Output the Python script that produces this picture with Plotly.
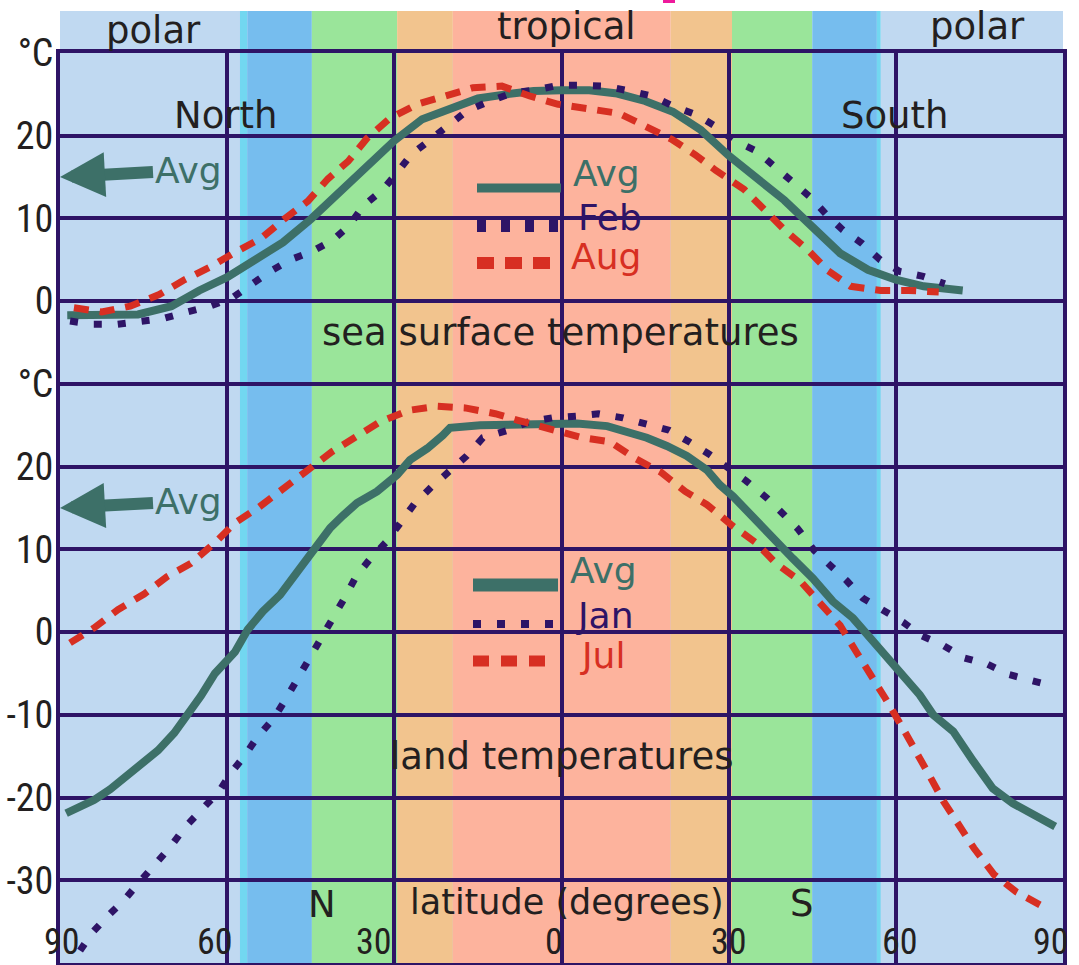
import plotly.graph_objects as go

# ---------------- data ----------------
# latitude: positive = North (left), negative = South (right)
sea_avg_lat = [88.7, 85, 80, 76, 70, 65, 60, 55, 50, 45, 40, 35, 30, 25, 20, 15, 10, 5, 0,
               -5, -10, -15, -20, -25, -30, -35, -40, -45, -50, -55, -60, -65, -70, -72]
sea_avg_temp = [-1.7, -1.7, -1.7, -1.6, -0.6, 1.3, 2.9, 5.0, 7.1, 9.9, 13.1, 16.1, 19.4, 22.0, 23.3,
                24.5, 25.0, 25.4, 25.5, 25.5, 25.1, 24.2, 22.9, 20.7, 17.6, 14.9, 12.2, 9.0, 5.8,
                3.8, 2.6, 1.8, 1.4, 1.3]

sea_feb_lat = [88.2, 84.1, 79.8, 75.6, 71.5, 67.2, 63.1, 59.1, 56.3, 52.3, 48.7, 44.8, 41.0, 38.0,
               35.6, 32.2, 29.9, 27.0, 23.4, 20.5, 17.0, 12.8, 8.7, 4.8, 0.6, -3.7, -7.8, -12.3,
               -16.2, -20.0, -24.3, -27.5, -30.8, -35.1, -38.0, -41.5, -44.6, -47.5, -50.5,
               -53.9, -57.2, -60.7, -64.9, -68.8]
sea_feb_temp = [-2.4, -2.8, -2.8, -2.4, -2.1, -1.3, -0.6, 0.4, 1.8, 3.6, 5.0, 6.0, 7.4, 9.2, 11.5,
                13.4, 15.2, 17.7, 19.6, 21.2, 23.0, 24.2, 25.2, 25.5, 26.1, 26.1, 26.0, 25.4,
                24.8, 23.6, 22.5, 21.2, 19.5, 18.1, 16.4, 14.6, 12.6, 10.5, 8.6, 7.0, 5.0, 3.6,
                3.0, 2.1]

sea_aug_lat = [87.5, 82.5, 77.4, 72.2, 67.9, 62.9, 58.6, 53.9, 49.8, 45.5, 41.9, 38.3, 34.9, 30.8,
               25.9, 20.9, 15.9, 10.7, 5.7, 0.6, -5.1, -10.3, -14.6, -19.7, -24.0, -27.7, -32.8,
               -36.3, -39.9, -44.2, -47.8, -51.9, -57.3, -62.3, -67.7]
sea_aug_temp = [-0.8, -1.3, -0.6, 0.8, 2.5, 4.2, 5.9, 7.6, 9.9, 12.1, 14.8, 16.9, 19.7, 22.1, 23.8,
                24.8, 25.8, 26.0, 24.8, 23.8, 23.3, 22.7, 21.3, 19.6, 17.7, 15.8, 13.5, 11.1,
                8.7, 6.2, 3.7, 1.8, 1.3, 1.3, 1.1]

land_avg_lat = [88.9, 86.8, 83.9, 81.0, 78.2, 75.3, 72.4, 69.5, 67.0, 64.7, 62.2, 58.6, 56.3,
                53.6, 50.5, 48.2, 45.7, 43.9, 41.5, 39.2, 36.7, 33.1, 29.5, 27.2, 24.1, 21.3,
                20.0, 14.6, 9.2, 3.3, -2.8, -8.2, -11.8, -15.3, -18.9, -22.5, -26.1, -28.4,
                -30.8, -34.4, -38.0, -41.5, -45.1, -48.7, -52.3, -55.9, -58.4, -61.3, -64.3,
                -66.7, -70.3, -73.9, -77.4, -81.0, -84.6, -88.6]
land_avg_temp = [-21.9, -21.2, -20.3, -19.0, -17.5, -16.0, -14.3, -12.2, -10.0, -7.7, -5.0, -2.4,
                 0.3, 2.5, 4.5, 6.5, 8.6, 10.5, 12.6, 14.1, 15.6, 17.0, 19.0, 20.8, 22.2, 23.8,
                 24.7, 25.0, 25.0, 25.2, 25.2, 24.9, 24.3, 23.5, 22.5, 21.3, 19.6, 17.8, 16.4,
                 13.8, 11.4, 8.9, 6.5, 3.7, 1.7, -1.1, -2.8, -5.2, -7.6, -10.0, -12.0, -15.6,
                 -18.9, -20.7, -21.9, -23.5]

land_jan_lat = [86.4, 84.3, 81.4, 78.5, 75.6, 72.6, 70.1, 67.6, 64.7, 61.5, 59.3, 56.8, 54.6,
                51.6, 49.4, 47.3, 45.1, 43.0, 40.8, 38.7, 36.9, 34.4, 31.3, 28.4, 26.3, 23.4,
                20.5, 17.0, 14.1, 9.6, 6.0, 1.7, -2.6, -6.6, -11.0, -15.0, -19.3, -22.9, -26.5,
                -33.1, -36.7, -39.6, -42.4, -45.3, -48.2, -51.2, -54.1, -57.7, -61.3, -64.5,
                -68.5, -72.2, -76.5, -80.1, -84.4, -88.0]
land_jan_temp = [-38.5, -36.4, -34.3, -32.4, -30.1, -27.8, -25.9, -23.6, -21.6, -19.3, -17.0,
                 -14.9, -12.7, -10.4, -8.0, -5.6, -3.1, -0.6, 1.7, 4.4, 6.7, 8.8, 11.0, 13.7,
                 15.6, 17.5, 19.3, 21.3, 23.5, 24.4, 25.4, 25.9, 26.1, 26.4, 25.9, 25.2, 24.4,
                 23.0, 21.5, 18.3, 16.3, 14.4, 12.5, 9.9, 8.1, 6.2, 4.1, 2.7, 1.2, -0.4, -1.6,
                 -3.1, -3.9, -5.1, -5.8, -6.5]

land_jul_lat = [88.2, 83.9, 79.6, 74.9, 70.8, 66.5, 62.2, 58.6, 54.3, 49.8, 45.5, 41.2, 37.2,
                32.6, 27.4, 22.3, 17.3, 11.9, 7.8, 1.3, -3.7, -8.7, -13.2, -17.9, -22.2, -26.1,
                -30.6, -34.9, -38.5, -42.8, -46.4, -50.0, -53.0, -55.5, -58.1, -60.9, -63.4,
                -66.0, -68.5, -71.0, -74.0, -77.6, -81.6, -86.2]
land_jul_temp = [-1.3, 0.5, 2.7, 4.6, 6.7, 8.3, 10.8, 13.2, 15.1, 17.5, 19.6, 21.8, 23.5, 25.4,
                 26.8, 27.3, 27.1, 26.4, 25.6, 24.4, 23.5, 23.0, 21.0, 19.3, 17.0, 15.4, 12.9,
                 10.8, 8.3, 6.2, 3.4, 0.8, -2.5, -5.1, -8.0, -11.2, -14.4, -17.3, -20.4, -23.1,
                 -26.1, -29.3, -31.4, -33.1]

avg_marker_temp = 15  # the "Avg" arrows point at 15 °C on both panels

# climate zone bands (latitude from -> to)
zone_from = [90, 57.7, 56.4, 44.8, 29.5, 19.5, -19.6, -30.6, -45.0, -56.6, -57.3]
zone_to = [57.7, 56.4, 44.8, 29.5, 19.5, -19.6, -30.6, -45.0, -56.6, -57.3, -90]
zone_colors = ["#C0D9F1", "#72D7F0", "#76BDEE", "#9AE59A", "#F2C48E", "#FDB39D",
               "#F2C48E", "#9AE59A", "#76BDEE", "#72D7F0", "#C0D9F1"]

x_tickvals = [90, 60, 30, 0, -30, -60, -90]
x_ticktext = ["90", "60", "30", "0", "30", "60", "90"]
y_tickvals = [-40, -30, -20, -10, 0, 10, 20, 30, 40, 50, 60, 70]
y_ticktext = ["", "-30", "-20", "-10", "0", "10", "20", "°C", "0", "10", "20", "°C"]

# ---------------- style ----------------
NAVY = "#2E1466"
TEAL = "#3D7068"
RED = "#D72F22"
INK = "#231F20"
WORD_FONT = "DejaVu Sans, Liberation Sans, sans-serif"
NUM_FONT = "Liberation Sans Narrow, Roboto Condensed, Liberation Sans, sans-serif"

W, H = 1079, 965
L, R, T, B = 60, 1063, 53, 963


def px(x, y):
    return (x - L) / (R - L), (B - y) / (B - T)


fig = go.Figure()

fig.add_trace(go.Scatter(x=sea_avg_lat, y=sea_avg_temp, yaxis="y2", mode="lines",
                         line=dict(color=TEAL, width=8), name="Avg"))
fig.add_trace(go.Scatter(x=sea_feb_lat, y=sea_feb_temp, yaxis="y2", mode="lines",
                         line=dict(color=NAVY, width=7, dash="8px,16px"), name="Feb"))
fig.add_trace(go.Scatter(x=sea_aug_lat, y=sea_aug_temp, yaxis="y2", mode="lines",
                         line=dict(color=RED, width=7, dash="15px,11px"), name="Aug"))
fig.add_trace(go.Scatter(x=land_avg_lat, y=land_avg_temp, mode="lines",
                         line=dict(color=TEAL, width=8), name="Avg"))
fig.add_trace(go.Scatter(x=land_jan_lat, y=land_jan_temp, mode="lines",
                         line=dict(color=NAVY, width=7, dash="8px,16px"), name="Jan"))
fig.add_trace(go.Scatter(x=land_jul_lat, y=land_jul_temp, mode="lines",
                         line=dict(color=RED, width=7, dash="15px,11px"), name="Jul"))

shapes = []
header_top = px(0, 11)[1]
for z0, z1, c in zip(zone_from, zone_to, zone_colors):
    shapes.append(dict(type="rect", xref="x", yref="paper", x0=z0, x1=z1, y0=0, y1=header_top,
                       fillcolor=c, line=dict(width=0), layer="below"))

# small magenta mark at the top edge
mx0, my0 = px(663, 0)
mx1, my1 = px(675, 3)
shapes.append(dict(type="rect", xref="paper", yref="paper", x0=mx0, x1=mx1, y0=my1, y1=my0,
                   fillcolor="#EE1A9C", line=dict(width=0)))


def legend_line(x0, x1, y, color, width, dash="solid"):
    a = px(x0, y)
    b = px(x1, y)
    return dict(type="line", xref="paper", yref="paper", x0=a[0], y0=a[1], x1=b[0], y1=b[1],
                line=dict(color=color, width=width, dash=dash), layer="above")


shapes += [
    legend_line(477, 561, 188, TEAL, 9),
    legend_line(477, 561, 225, NAVY, 14, "9px,15px"),
    legend_line(477, 551, 263, RED, 12, "17px,11px"),
    legend_line(473, 558, 585, TEAL, 13),
    legend_line(473, 556, 624, NAVY, 8, "8px,16px"),
    legend_line(473, 547, 661, RED, 11, "16px,12px"),
]

annotations = []


def label(text, x, y, color=INK, size=37, family=WORD_FONT):
    xx, yy = px(x, y)
    annotations.append(dict(text=text, x=xx, y=yy, xref="paper", yref="paper",
                            xanchor="center", yanchor="middle", showarrow=False,
                            borderpad=0,
                            font=dict(family=family, size=size, color=color)))


label("polar", 153, 30)
label("tropical", 566, 26)
label("polar", 977, 26)
label("North", 225, 116)
label("South", 895, 116)
label("sea surface temperatures", 560, 332)
label("land temperatures", 562, 756)
label("N", 322, 904)
label("latitude (degrees)", 567, 902, size=35)
label("S", 802, 903)

label("Avg", 606, 174, TEAL, 36)
label("Feb", 610, 217, NAVY, 36)
label("Aug", 606, 256, RED, 36)
label("Avg", 603, 570, TEAL, 36)
label("Jan", 605, 615, NAVY, 36)
label("Jul", 602, 655, RED, 36)

# "Avg" arrows pointing to the left axis
for yref in ["y2", "y"]:
    annotations.append(dict(text="Avg", x=90, y=avg_marker_temp, xref="x", yref=yref,
                            showarrow=True, ax=128, ay=-7, arrowhead=2, arrowsize=0.75,
                            arrowwidth=12, arrowcolor=TEAL, standoff=0,
                            font=dict(family=WORD_FONT, size=36, color=TEAL)))

# x tick labels drawn inside the plot, just above the bottom border
x_label_shift = [2, -12, -20, -8, 0, 4, -12]
for v, t, s in zip(x_tickvals, x_ticktext, x_label_shift):
    annotations.append(dict(text=t, x=v, y=px(0, 964)[1], xref="x", yref="paper",
                            xanchor="center", yanchor="bottom", xshift=s, showarrow=False,
                            borderpad=0,
                            font=dict(family=NUM_FONT, size=36, color=INK)))

fig.update_layout(
    width=W, height=H,
    margin=dict(l=L, r=W - R, t=T, b=H - B, pad=0),
    paper_bgcolor="white",
    plot_bgcolor="#C0D9F1",
    showlegend=False,
    shapes=shapes,
    annotations=annotations,
    xaxis=dict(range=[90, -90], tickvals=x_tickvals, showticklabels=False, ticks="",
               showgrid=True, gridcolor=NAVY, gridwidth=4, zeroline=False,
               showline=True, linecolor=NAVY, linewidth=4, mirror=True),
    yaxis=dict(range=[-40, 70], tickvals=y_tickvals, ticktext=y_ticktext, ticks="",
               tickfont=dict(family=NUM_FONT, size=38, color=INK), ticklabelstandoff=-5,
               showgrid=True, gridcolor=NAVY, gridwidth=4, zeroline=False,
               showline=True, linecolor=NAVY, linewidth=4, mirror=True),
    yaxis2=dict(range=[-80, 30], overlaying="y", visible=False, showgrid=False),
)

fig.write_html("out.html")
